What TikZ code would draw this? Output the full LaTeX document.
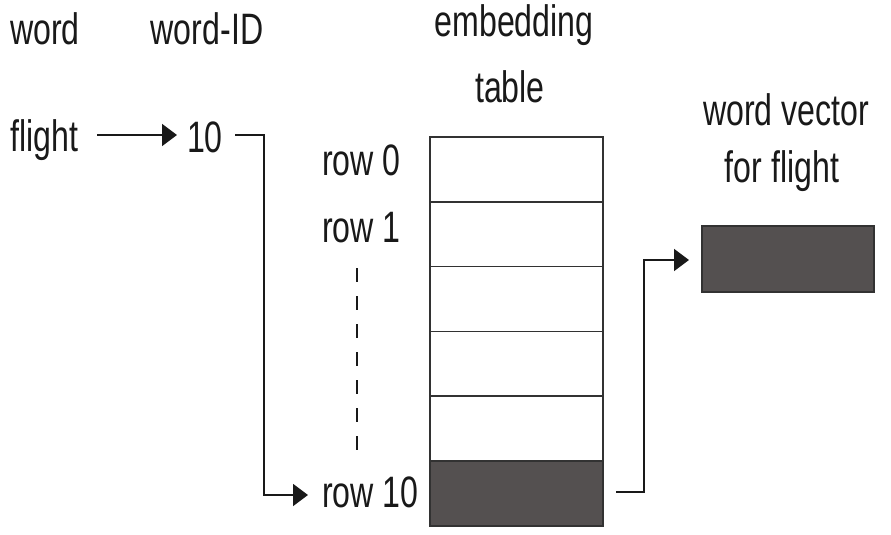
\documentclass[tikz,border=0pt]{standalone}
\usepackage{fontspec}
\setmainfont[FakeStretch=0.73]{Liberation Sans}
\usetikzlibrary{arrows.meta}
\definecolor{ink}{RGB}{25,25,25}
\definecolor{cellfill}{RGB}{84,80,80}
\definecolor{edge}{RGB}{50,50,50}
\tikzset{
  lbl/.style={inner sep=0pt, text=ink, anchor=base, font=\fontsize{44}{48}\selectfont},
  cell/.style={draw=edge, line width=1.6pt, minimum width=173pt, minimum height=64.8pt, inner sep=0pt, outer sep=0pt, anchor=north},
  darkcell/.style={cell, fill=cellfill},
  conn/.style={draw=ink, line width=1.6pt},
  arr/.style={conn, -{Triangle[length=15pt,width=22pt]}},
}
\begin{document}
\begin{tikzpicture}[x=1pt,y=-1pt]
\useasboundingbox (0,0) rectangle (891,535);
% headers
\node[lbl, anchor=base west] (hword) at (10,45) {word};
\node[lbl] (hid) at (207,45) {word-ID};
\node[lbl] (hemb) at (514,37) {embedding};
\node[lbl] (htab) at (510,102) {table};
\node[lbl] (hvec1) at (786,125) {word vector};
\node[lbl] (hvec2) at (782,182) {for flight};
% inputs
\node[lbl, anchor=base west] (flight) at (10,151) {flight};
\node[lbl] (id) at (205,152) {10};
% row labels
\node[lbl, anchor=base west] (lab0) at (322,175) {row 0};
\node[lbl, anchor=base west] (lab1) at (322,242) {row 1};
\node[lbl, anchor=base west] (lab10) at (322,507) {row 10};
% table
\node[cell] (r0) at (516.5,137) {};
\node[cell] (r1) at (r0.south) {};
\node[cell] (r2) at (r1.south) {};
\node[cell] (r3) at (r2.south) {};
\node[cell] (r4) at (r3.south) {};
\node[darkcell] (r10) at (r4.south) {};
% vector
\node[darkcell, anchor=north west, minimum width=172pt, minimum height=66pt] (vec) at (702,226) {};
% dashed continuation
\coordinate (dtop) at (357,268);
\coordinate (dbot) at (357,456);
\draw[conn, dash pattern=on 14pt off 14pt] (dtop) -- (dbot);
% connectors
\coordinate (bendA) at (264,135);
\coordinate (bendB) at (644,260);
\draw[arr] (97,135) -- (177,135);
\draw[arr] (235,135) -- (bendA) |- (308,495);
\draw[arr] (616,492) -| (bendB) -- (689,260);
\end{tikzpicture}
\end{document}
